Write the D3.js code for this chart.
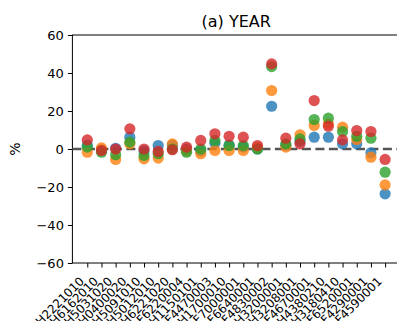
<!DOCTYPE html>
<html>
<head>
<meta charset="utf-8">
<script src="https://cdn.jsdelivr.net/npm/d3@7"></script>
<style>
  html, body { margin: 0; padding: 0; background: #fff; }
  svg { display: block; font-family: "DejaVu Sans", sans-serif; }
</style>
</head>
<body>
<svg id="chart" width="397" height="321"></svg>
<script>
const categories = ["H2221010","H6162010","H5031020","H0400020","H5091010","H5012010","H6221020","F6220004","H1150101","F4470003","H1700010","F7000001","F6640001","F4830002","H3200001","H3208001","F4670001","H4380210","H3180410","F6520001","F4290001","F4590001"];
const seriesBlue   = [2.0, -0.5, 0.4, 6.2, -1.0, 1.8, 2.0, 0.0, -1.0, 3.0, 2.0, 1.0, 0.0, 22.5, 2.0, 4.0, 6.2, 6.2, 2.7, 2.7, -2.0, -23.6];
const seriesOrange = [-1.7, 0.6, -5.5, 2.7, -5.2, -4.8, 2.7, -1.0, -2.5, -0.8, -0.8, -0.8, 0.8, 30.8, 1.0, 7.5, 12.4, 13.2, 11.5, 5.0, -4.3, -18.9];
const seriesGreen  = [1.0, -1.7, -3.0, 3.6, -3.4, -2.5, 0.0, -1.7, 0.0, 4.5, 1.8, 1.8, 0.0, 43.4, 2.7, 5.3, 15.5, 16.2, 9.2, 6.7, 5.7, -12.2];
const seriesRed    = [4.8, -0.8, 0.0, 10.6, 0.0, -1.3, -0.4, 1.0, 4.5, 8.0, 6.7, 6.2, 1.8, 44.8, 5.7, 2.7, 25.5, 12.0, 4.8, 9.7, 9.2, -5.5];
const yTicks = [-60, -40, -20, 0, 20, 40, 60];
const title = "(a) YEAR";
const yLabel = "%";

const series = [
  {values: seriesBlue, color: "#1f77b4"},
  {values: seriesOrange, color: "#ff7f0e"},
  {values: seriesGreen, color: "#2ca02c"},
  {values: seriesRed, color: "#d62728"}
];

const svg = d3.select("#chart");
const mLeft = 72.4, mRight = 400, mTop = 35, mBottom = 263;
const n = categories.length;
const x = d3.scaleLinear().domain([-1.05, n - 1 + 1.05]).range([mLeft, mRight]);
const y = d3.scaleLinear().domain([-60, 60]).range([mBottom, mTop]);

// frame
svg.append("rect").attr("x", mLeft).attr("y", mTop).attr("width", mRight - mLeft).attr("height", mBottom - mTop)
  .attr("fill", "none").attr("stroke", "#000").attr("stroke-width", 1);

// y axis
const yAxis = svg.append("g").attr("transform", `translate(${mLeft},0)`)
  .call(d3.axisLeft(y).tickValues(yTicks).tickSize(4.5).tickPadding(4).tickFormat(d => d < 0 ? "\u2212" + Math.abs(d) : d));
yAxis.select(".domain").remove();
yAxis.selectAll("text").attr("font-size", 13).attr("font-family", "DejaVu Sans").attr("fill", "#000");

// x axis
const xAxis = svg.append("g").attr("transform", `translate(0,${mBottom})`)
  .call(d3.axisBottom(x).tickValues(d3.range(n)).tickSize(4.5).tickFormat(i => categories[i]));
xAxis.select(".domain").remove();
xAxis.selectAll("text")
  .attr("font-size", 12).attr("font-family", "DejaVu Sans").attr("fill", "#000")
  .attr("text-anchor", "end")
  .attr("x", 0).attr("y", 0).attr("dy", 0)
  .attr("transform", "translate(-3,19) rotate(-45)");

// zero line
svg.append("line").attr("x1", mLeft).attr("x2", mRight).attr("y1", y(0)).attr("y2", y(0))
  .attr("stroke", "#555").attr("stroke-width", 2.5).attr("stroke-dasharray", "9,4.5");

// points
series.forEach(s => {
  svg.append("g").selectAll("circle").data(s.values).join("circle")
    .attr("cx", (d, i) => x(i)).attr("cy", d => y(d)).attr("r", 5.6)
    .attr("fill", s.color).attr("fill-opacity", 0.8);
});

// title
svg.append("text").attr("x", (mLeft + mRight) / 2).attr("y", mTop - 8).attr("text-anchor", "middle")
  .attr("font-size", 16).text(title);

// y label
svg.append("text").attr("transform", `translate(20,${(mTop + mBottom) / 2}) rotate(-90)`)
  .attr("text-anchor", "middle").attr("font-size", 14).text(yLabel);
</script>
</body>
</html>
